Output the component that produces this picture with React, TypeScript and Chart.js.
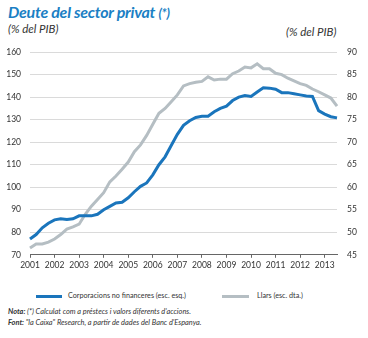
import React, { useEffect, useRef } from "react";
import { Chart, registerables } from "chart.js";

Chart.register(...registerables);

const years = ["2001","2002","2003","2004","2005","2006","2007","2008","2009","2010","2011","2012","2013"];
const quarters = ["T1", "T2", "T3", "T4"];
const categories: string[] = [];
years.forEach((y) => quarters.forEach((q) => categories.push(y + q)));
const labels = categories.slice(0, 51);

const corporacions = [
  77, 79, 82, 84, 85.5, 86, 85.7, 86, 87.3, 87.3, 87.3, 88,
  90, 91.5, 93, 93.3, 95.3, 98, 100.4, 101.9, 105.5, 110, 113.5, 118.5,
  123.5, 127.5, 129.5, 131, 131.5, 131.5, 133.5, 135, 136, 138.5, 140, 140.7,
  140.3, 142.3, 144.2, 144, 143.5, 142, 142, 141.5, 141, 140.5, 140.3, 134,
  132.5, 131.3, 130.8,
];
const llars = [
  46.5, 47.4, 47.4, 47.8, 48.5, 49.5, 50.7, 51.2, 51.8, 54, 55.8, 57.3,
  58.8, 61.2, 62.5, 64, 65.6, 67.9, 69.4, 71.5, 74, 76.4, 77.5, 79,
  80.5, 82.5, 83, 83.3, 83.5, 84.5, 83.8, 84, 84, 85.2, 85.8, 86.7,
  86.5, 87.4, 86.3, 86.3, 85.3, 85, 84.2, 83.6, 83, 82.6, 81.8, 81.2,
  80.5, 79.8, 78,
];
const leftTicks = { min: 70, max: 160, step: 10 };
const rightTicks = { min: 45, max: 90, step: 5 };

const BLUE = "#1a75bc";
const TITLE_BLUE = "#1b7fc4";
const GREY = "#b5bec3";
const TEXT = "#333333";
const FONT = "Lato, 'Open Sans', sans-serif";

export default function App() {
  const ref = useRef<HTMLCanvasElement | null>(null);
  useEffect(() => {
    if (!ref.current) return;
    const chart = new Chart(ref.current, {
      type: "line",
      data: {
        labels,
        datasets: [
          {
            label: "Corporacions no financeres (esc. esq.)",
            data: corporacions,
            borderColor: BLUE,
            borderWidth: 3,
            pointRadius: 0,
            tension: 0,
            yAxisID: "y",
          },
          {
            label: "Llars (esc. dta.)",
            data: llars,
            borderColor: GREY,
            borderWidth: 3,
            pointRadius: 0,
            tension: 0,
            yAxisID: "y1",
          },
        ],
      },
      options: {
        animation: false,
        responsive: false,
        maintainAspectRatio: false,
        layout: { padding: { top: 0, bottom: 0, left: 0, right: 0 } },
        plugins: { legend: { display: false }, tooltip: { enabled: false } },
        scales: {
          x: {
            offset: false,
            grid: {
              display: true,
              drawOnChartArea: false,
              drawTicks: true,
              tickLength: 3,
              color: "#666666",
            },
            border: { display: true, color: "#666666", width: 1 },
            ticks: {
              autoSkip: false,
              maxRotation: 0,
              padding: 2,
              color: TEXT,
              font: { family: FONT, size: 8.5 },
              callback: (_v: any, i: number) =>
                labels[i].endsWith("T1") ? labels[i].slice(0, 4) : null,
            },
          },
          y: {
            position: "left",
            min: leftTicks.min,
            max: leftTicks.max,
            afterFit: (s: any) => { s.width = 30; },
            grid: { color: "#dadada", lineWidth: 1, drawTicks: false },
            border: { display: false },
            ticks: {
              stepSize: leftTicks.step,
              padding: 9,
              color: TEXT,
              font: { family: FONT, size: 8.5 },
            },
          },
          y1: {
            position: "right",
            min: rightTicks.min,
            max: rightTicks.max,
            afterFit: (s: any) => { s.width = 31; },
            grid: { display: false, drawTicks: false },
            border: { display: false },
            ticks: {
              stepSize: rightTicks.step,
              padding: 10,
              color: TEXT,
              font: { family: FONT, size: 8.5 },
            },
          },
        },
      },
    } as any);
    return () => chart.destroy();
  }, []);

  const abs = (left: number, top: number, extra: React.CSSProperties = {}): React.CSSProperties => ({
    position: "absolute",
    left,
    top,
    whiteSpace: "nowrap",
    fontFamily: FONT,
    color: TEXT,
    ...extra,
  });

  return (
    <div style={{ position: "fixed", left: 0, top: 0, width: 368, height: 338, background: "#fff", overflow: "hidden" }}>
      <div style={abs(8, 2, { fontSize: 16, fontWeight: 700, fontStyle: "italic", color: TITLE_BLUE, letterSpacing: -0.25, lineHeight: "19px" })}>
        Deute del sector privat <span style={{ fontSize: 13 }}>(*)</span>
      </div>
      <div style={abs(8, 22, { fontSize: 11.5, fontStyle: "italic", lineHeight: "14px" })}>(% del PIB)</div>
      <div style={abs(286, 25, { fontSize: 11.5, fontStyle: "italic", lineHeight: "14px" })}>(% del PIB)</div>
      <canvas ref={ref} width={368} height={235} style={{ position: "absolute", left: 0, top: 37, width: 368, height: 235 }} />
      <div style={abs(36, 295, { width: 26, height: 3, background: BLUE })} />
      <div style={abs(68, 291, { fontSize: 7.2, lineHeight: "10px" })}>Corporacions no financeres (esc. esq.)</div>
      <div style={abs(222, 295, { width: 27, height: 3, background: GREY })} />
      <div style={abs(257, 291, { fontSize: 7.2, lineHeight: "10px" })}>Llars (esc. dta.)</div>
      <div style={abs(8, 307, { fontSize: 7.4, fontStyle: "italic", lineHeight: "10px" })}>
        <b>Nota:</b> (*) Calculat com a préstecs i valors diferents d'accions.
      </div>
      <div style={abs(8, 318, { fontSize: 7.4, fontStyle: "italic", lineHeight: "10px" })}>
        <b>Font:</b> "la Caixa" Research, a partir de dades del Banc d'Espanya.
      </div>
    </div>
  );
}
